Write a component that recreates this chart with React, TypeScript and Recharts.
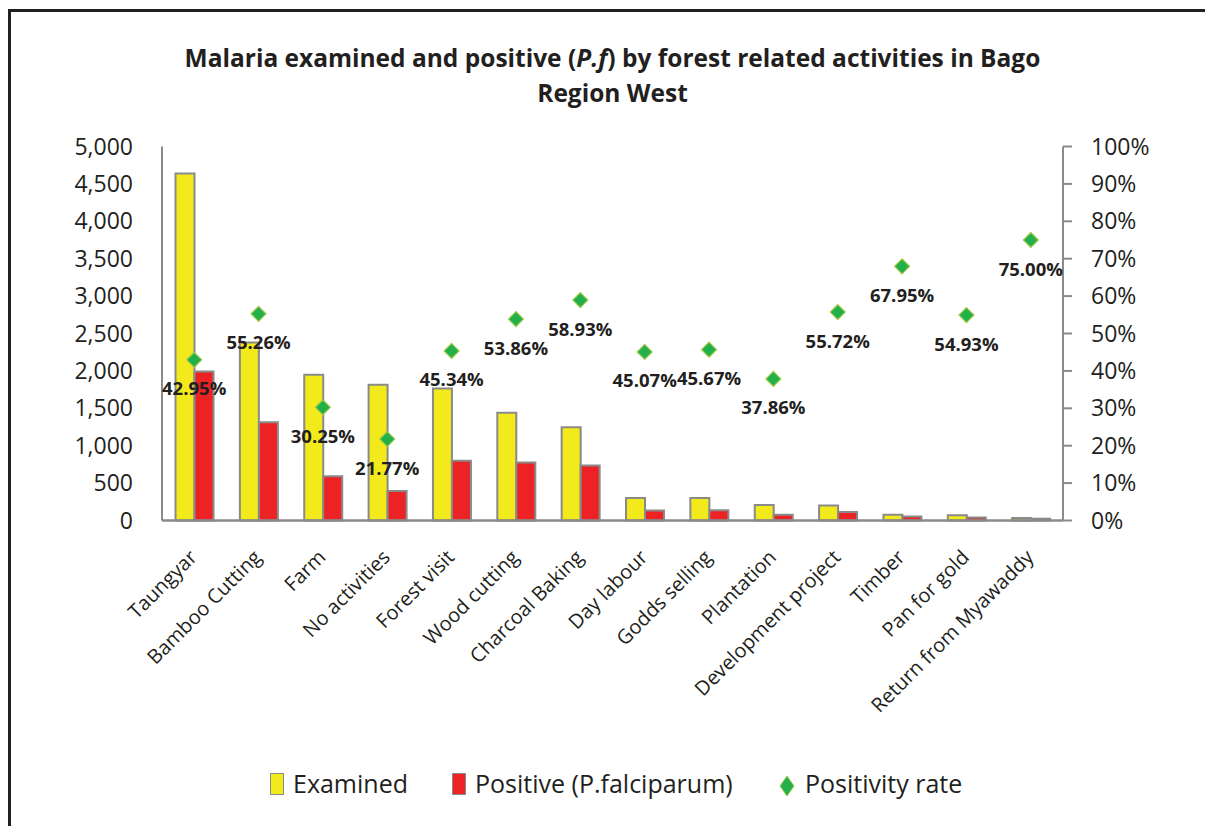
import { ComposedChart, Bar, Line, XAxis, YAxis, LabelList } from 'recharts';

const categories = [
  'Taungyar',
  'Bamboo Cutting',
  'Farm',
  'No activities',
  'Forest visit',
  'Wood cutting',
  'Charcoal Baking',
  'Day labour',
  'Godds selling',
  'Plantation',
  'Development project',
  'Timber',
  'Pan for gold',
  'Return from Myawaddy',
];
const examined = [4640, 2380, 1950, 1815, 1765, 1440, 1245, 300, 300, 206, 201, 78, 71, 32];
const positive = [1993, 1315, 590, 395, 800, 776, 734, 135, 137, 78, 112, 53, 39, 24];
const positivityRate = [42.95, 55.26, 30.25, 21.77, 45.34, 53.86, 58.93, 45.07, 45.67, 37.86, 55.72, 67.95, 54.93, 75.0];
const leftTicks = [0, 500, 1000, 1500, 2000, 2500, 3000, 3500, 4000, 4500, 5000];
const rightTicks = [0, 10, 20, 30, 40, 50, 60, 70, 80, 90, 100];

const data = categories.map((name, i) => ({
  name,
  examined: examined[i],
  positive: positive[i],
  rate: positivityRate[i],
}));

const YELLOW = '#f2ea1a';
const RED = '#ed2224';
const GREEN = '#22b04b';
const BORDER = '#8a8a8a';
const TEXT = '#231f20';
const FONT = '"Open Sans", sans-serif';

const Diamond = (props: any) => {
  const { cx, cy } = props;
  if (cx == null || cy == null) return null;
  const r = 7.5;
  return (
    <polygon
      points={`${cx},${cy - r} ${cx + r},${cy} ${cx},${cy + r} ${cx - r},${cy}`}
      fill={GREEN}
      stroke="#a3c94a"
      strokeWidth={1.2}
    />
  );
};

const RateLabel = (props: any) => {
  const { x, y, value } = props;
  return (
    <text
      x={x}
      y={y + 28}
      textAnchor="middle"
      dominantBaseline="central"
      fontFamily={FONT}
      fontWeight={700}
      fontSize={18.5}
      fill={TEXT}
    >
      {Number(value).toFixed(2)}%
    </text>
  );
};

const CategoryTick = (props: any) => {
  const { x, y, payload } = props;
  const ax = x + 4;
  const ay = y + 30;
  return (
    <text
      x={ax}
      y={ay}
      textAnchor="end"
      transform={`rotate(-45, ${ax}, ${ay})`}
      fontFamily={FONT}
      fontSize={20}
      fill={TEXT}
    >
      {payload.value}
    </text>
  );
};

export default function App() {
  return (
    <div style={{ position: 'absolute', left: 0, top: 0, width: 1205, height: 826, background: '#fff', overflow: 'hidden' }}>
      {/* frame */}
      <div style={{ position: 'absolute', left: 8, top: 9, width: 1197, height: 3, background: '#231f20' }} />
      <div style={{ position: 'absolute', left: 8, top: 9, width: 3, height: 817, background: '#231f20' }} />

      <div
        style={{
          position: 'absolute',
          left: 20,
          top: 40,
          width: 1185,
          textAlign: 'center',
          fontFamily: FONT,
          fontWeight: 700,
          fontSize: 24.5,
          lineHeight: '35px',
          color: TEXT,
        }}
      >
        Malaria examined and positive (<i>P.f</i>) by forest related activities in Bago
        <br />
        Region West
      </div>

      <div style={{ position: 'absolute', left: 0, top: 0 }}>
        <ComposedChart
          width={1205}
          height={826}
          data={data}
          margin={{ top: 146.5, right: 62, bottom: 105.5, left: 82 }}
          barCategoryGap="21%"
          barGap={0}
        >
          <XAxis
            dataKey="name"
            interval={0}
            height={200}
            tickLine={false}
            axisLine={{ stroke: BORDER, strokeWidth: 2.5 }}
            tick={<CategoryTick />}
          />
          <YAxis
            yAxisId="left"
            width={80}
            domain={[0, 5000]}
            ticks={leftTicks}
            interval={0}
            tickLine={false}
            tickSize={0}
            tickMargin={29}
            axisLine={{ stroke: BORDER, strokeWidth: 2 }}
            tickFormatter={(v: number) => v.toLocaleString('en-US')}
            tick={{ fontFamily: FONT, fontSize: 23, fill: TEXT }}
          />
          <YAxis
            yAxisId="right"
            orientation="right"
            width={80}
            domain={[0, 100]}
            ticks={rightTicks}
            interval={0}
            tickSize={9}
            tickMargin={19}
            tickLine={{ stroke: BORDER, strokeWidth: 2 }}
            axisLine={{ stroke: BORDER, strokeWidth: 2 }}
            tickFormatter={(v: number) => `${v}%`}
            tick={{ fontFamily: FONT, fontSize: 23, fill: TEXT, textAnchor: 'start' }}
          />
          <Bar
            yAxisId="left"
            dataKey="examined"
            fill={YELLOW}
            stroke={BORDER}
            strokeWidth={2}
            isAnimationActive={false}
          />
          <Bar
            yAxisId="left"
            dataKey="positive"
            fill={RED}
            stroke={BORDER}
            strokeWidth={2}
            isAnimationActive={false}
          />
          <Line
            yAxisId="right"
            dataKey="rate"
            stroke="none"
            dot={<Diamond />}
            activeDot={false}
            isAnimationActive={false}
          >
            <LabelList dataKey="rate" content={<RateLabel />} />
          </Line>
        </ComposedChart>
      </div>

      {/* legend */}
      <div style={{ position: 'absolute', left: 0, top: 770, width: 1205, height: 30, fontFamily: FONT, fontSize: 25, color: TEXT }}>
        <div style={{ position: 'absolute', left: 270, top: 3, width: 12, height: 20, background: YELLOW, border: `1.5px solid ${BORDER}` }} />
        <div style={{ position: 'absolute', left: 293, top: -2, lineHeight: '30px' }}>Examined</div>
        <div style={{ position: 'absolute', left: 452, top: 3, width: 12, height: 20, background: RED, border: `1.5px solid ${BORDER}` }} />
        <div style={{ position: 'absolute', left: 475, top: -2, lineHeight: '30px' }}>Positive (P.falciparum)</div>
        <svg style={{ position: 'absolute', left: 779, top: 5 }} width={16} height={22}>
          <polygon points="8,1 15,11 8,21 1,11" fill={GREEN} stroke="#a3c94a" strokeWidth={1} />
        </svg>
        <div style={{ position: 'absolute', left: 805, top: -2, lineHeight: '30px' }}>Positivity rate</div>
      </div>
    </div>
  );
}
